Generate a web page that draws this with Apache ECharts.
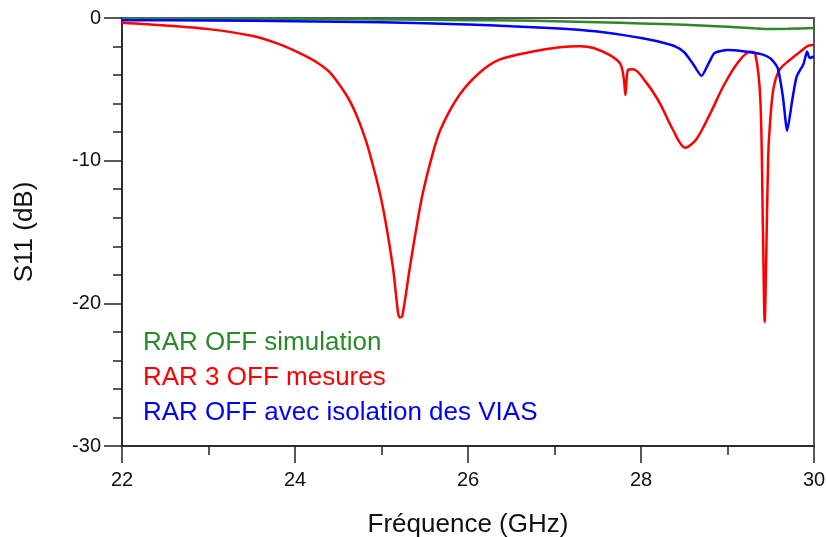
<!DOCTYPE html>
<html><head><meta charset="utf-8">
<script src="https://cdn.jsdelivr.net/npm/echarts@6/dist/echarts.min.js"></script>
<style>html,body{margin:0;padding:0;background:#fff}#c{width:826px;height:537px}</style>
</head><body><div id="c"></div>
<script>
const seriesNames = ['RAR OFF simulation', 'RAR 3 OFF mesures', 'RAR OFF avec isolation des VIAS'];
const xTicks = [22, 24, 26, 28, 30];
const yTicks = [0, -10, -20, -30];

const simFreq = [22, 23, 24, 24.5, 25, 25.5, 26, 26.5, 27, 27.5, 28, 28.5, 29, 29.3, 29.5, 29.7, 30];
const simDb   = [-0.05, -0.05, -0.05, -0.08, -0.1, -0.12, -0.15, -0.18, -0.22, -0.3, -0.38, -0.48, -0.62, -0.72, -0.77, -0.76, -0.7];

const mesFreq = [22, 22.5, 23, 23.5, 23.8, 24.06, 24.25, 24.4, 24.55, 24.65, 24.75, 24.85, 25.0, 25.13, 25.19, 25.21, 25.24, 25.33, 25.46, 25.57, 25.68, 25.9, 26.14, 26.37, 26.72, 27.06, 27.3, 27.45, 27.64, 27.76, 27.8, 27.82, 27.85, 27.91, 28.07, 28.22, 28.37, 28.51, 28.64, 28.8, 28.95, 29.11, 29.26, 29.32, 29.38, 29.41, 29.43, 29.45, 29.47, 29.49, 29.53, 29.6, 29.72, 29.84, 29.93, 30];
const mesDb   = [-0.33, -0.52, -0.78, -1.25, -1.8, -2.48, -3.1, -3.8, -5.0, -6.0, -7.4, -9.2, -12.8, -17.4, -20.6, -21.0, -20.9, -17.4, -12.8, -10.0, -7.85, -5.4, -3.8, -2.9, -2.38, -2.05, -1.98, -2.1, -2.6, -3.2, -4.2, -5.4, -3.64, -3.6, -4.6, -6.0, -7.85, -9.1, -8.5, -6.7, -4.8, -3.2, -2.37, -2.48, -5.75, -15.0, -21.3, -16.0, -9.8, -7.5, -5.0, -3.64, -2.94, -2.37, -1.96, -1.9];

const viaFreq = [22, 23, 24, 25, 26, 26.5, 27, 27.5, 27.8, 28, 28.2, 28.4, 28.5, 28.6, 28.7, 28.78, 28.85, 29, 29.2, 29.4, 29.5, 29.58, 29.64, 29.69, 29.75, 29.8, 29.88, 29.92, 29.95, 30];
const viaDb   = [-0.15, -0.18, -0.22, -0.3, -0.45, -0.58, -0.72, -0.95, -1.2, -1.4, -1.65, -2.0, -2.4, -3.2, -4.05, -3.2, -2.45, -2.25, -2.35, -2.55, -2.85, -3.5, -5.5, -7.9, -5.7, -4.1, -3.2, -2.35, -2.8, -2.7];

const colors = ['#2a8a2a', '#ff0000', '#0000ff'];
const pairs = (xs, ys) => xs.map((x, i) => [x, ys[i]]);
const font = 'Liberation Sans, Arial, sans-serif';

const chart = echarts.init(document.getElementById('c'));
chart.setOption({
  animation: false,
  backgroundColor: '#fff',
  grid: { left: 122, right: 12, top: 18, bottom: 91, containLabel: false, outerBoundsMode: 'none', show: true, borderColor: '#555', borderWidth: 2, backgroundColor: 'transparent' },
  legend: {
    orient: 'vertical', left: 133, top: 325, itemGap: 9, itemWidth: 0, itemHeight: 0, icon: 'rect',
    data: seriesNames.map((n, i) => ({ name: n, textStyle: { color: colors[i] } })),
    textStyle: { fontSize: 26, fontFamily: font }
  },
  xAxis: {
    type: 'value', min: 22, max: 30, interval: 2,
    name: 'Fréquence (GHz)', nameLocation: 'middle', nameGap: 66,
    nameTextStyle: { fontSize: 26, color: '#111', fontFamily: font },
    axisLine: { onZero: false, lineStyle: { color: '#222', width: 1.5 } },
    axisTick: { show: true, length: 17, lineStyle: { color: '#222', width: 1.5 } },
    minorTick: { show: true, splitNumber: 2, length: 9, lineStyle: { color: '#222', width: 1.5 } },
    axisLabel: { fontSize: 20, color: '#111', margin: 24, fontFamily: font, formatter: v => xTicks.includes(v) ? String(v) : '' },
    splitLine: { show: false }
  },
  yAxis: {
    type: 'value', min: -30, max: 0, interval: 10,
    name: 'S11 (dB)', nameLocation: 'middle', nameGap: 84, nameRotate: 90,
    nameTextStyle: { fontSize: 26, color: '#111', fontFamily: font },
    axisLine: { show: true, onZero: false, lineStyle: { color: '#222', width: 1.5 } },
    axisTick: { show: true, length: 18, lineStyle: { color: '#222', width: 1.5 } },
    minorTick: { show: true, splitNumber: 5, length: 9, lineStyle: { color: '#222', width: 1.5 } },
    axisLabel: { fontSize: 20, color: '#111', margin: 21, fontFamily: font, formatter: v => yTicks.includes(v) ? String(v) : '' },
    splitLine: { show: false }
  },
  series: [
    { name: seriesNames[0], type: 'line', data: pairs(simFreq, simDb), showSymbol: false, smooth: 0.3, lineStyle: { color: colors[0], width: 2.5 }, itemStyle: { color: colors[0] } },
    { name: seriesNames[1], type: 'line', data: pairs(mesFreq, mesDb), showSymbol: false, smooth: 0.3, lineStyle: { color: colors[1], width: 2.5 }, itemStyle: { color: colors[1] } },
    { name: seriesNames[2], type: 'line', data: pairs(viaFreq, viaDb), showSymbol: false, smooth: 0.2, lineStyle: { color: colors[2], width: 2.5 }, itemStyle: { color: colors[2] } }
  ]
});
</script></body></html>
